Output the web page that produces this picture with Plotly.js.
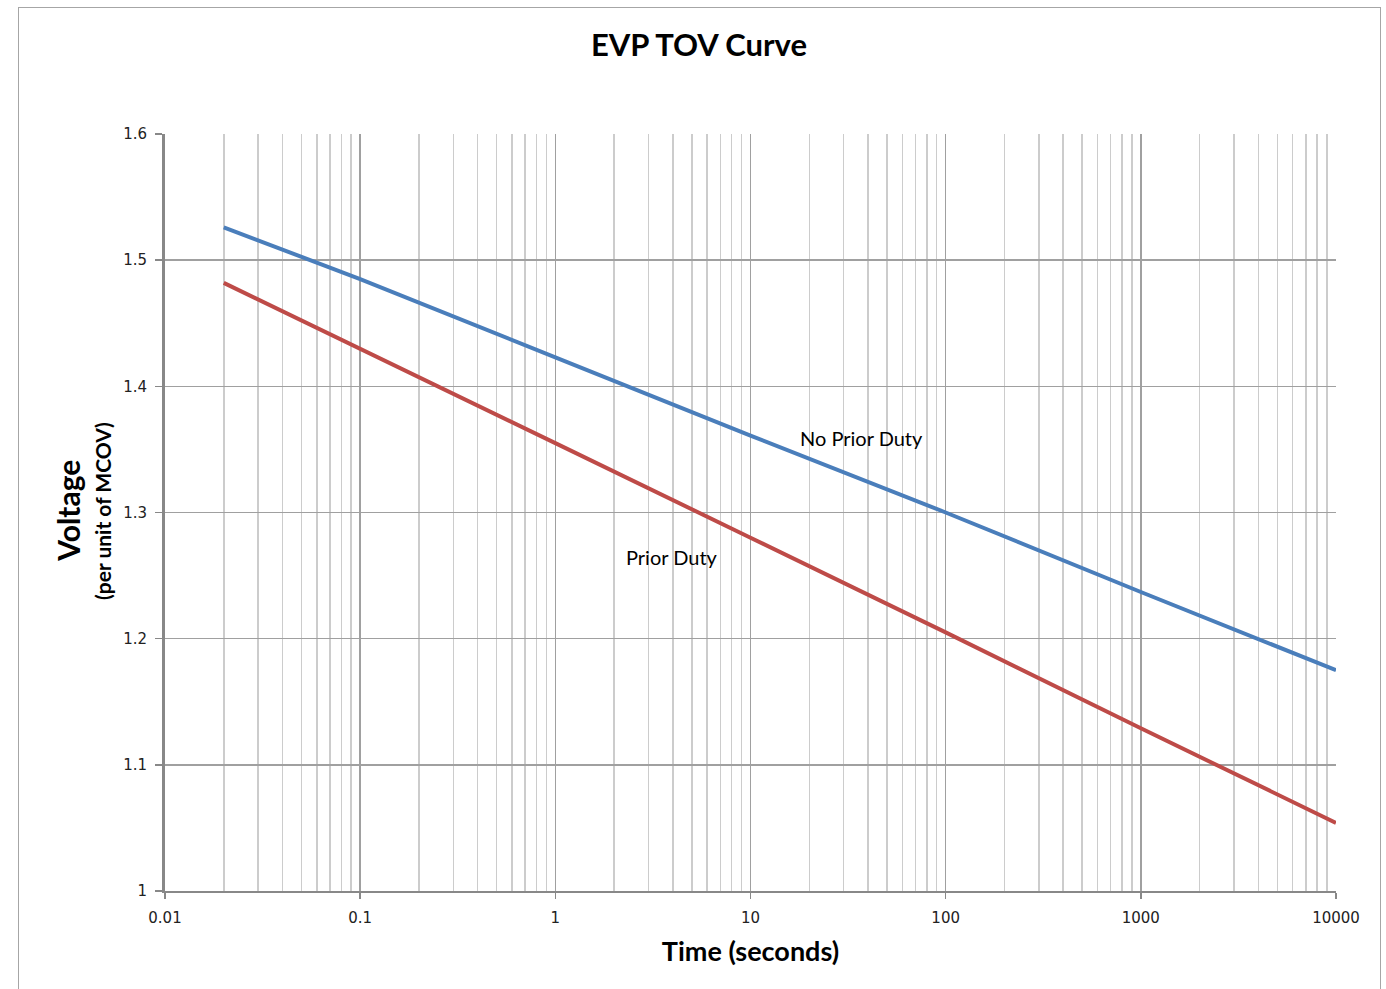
<!DOCTYPE html>
<html>
<head>
<meta charset="utf-8">
<script src="https://cdn.plot.ly/plotly-3.0.1.min.js"></script>
<style>
  html, body { margin: 0; padding: 0; background: #ffffff; }
  #frame { position: absolute; left: 18px; top: 7px; width: 1363px; height: 1000px; border: 1.5px solid #a6a6a6; box-sizing: border-box; }
  #chart { position: absolute; left: 0; top: 0; width: 1386px; height: 989px; }
</style>
</head>
<body>
<div id="frame"></div>
<div id="chart"></div>
<script>
// Time (seconds)
const timeSeconds = [0.02, 0.1, 1, 10, 100, 1000, 10000];
// Voltage per unit of MCOV
const noPriorDuty = [1.526, 1.485, 1.423, 1.361, 1.300, 1.237, 1.175];
const priorDuty   = [1.482, 1.430, 1.355, 1.280, 1.205, 1.129, 1.054];

const xTickVals = [0.01, 0.1, 1, 10, 100, 1000, 10000];
const xTickText = ["0.01", "0.1", "1", "10", "100", "1000", "10000"];
const yTickVals = [1, 1.1, 1.2, 1.3, 1.4, 1.5, 1.6];
const yTickText = ["1", "1.1", "1.2", "1.3", "1.4", "1.5", "1.6"];

const traces = [
  { x: timeSeconds, y: noPriorDuty, name: "No Prior Duty", mode: "lines",
    line: { color: "#4a7ebb", width: 4 } },
  { x: timeSeconds, y: priorDuty, name: "Prior Duty", mode: "lines",
    line: { color: "#be4b48", width: 4 } }
];

const layout = {
  width: 1386, height: 989,
  paper_bgcolor: "rgba(0,0,0,0)",
  plot_bgcolor: "#ffffff",
  showlegend: false,
  margin: { l: 165, r: 50, t: 134, b: 98 },
  title: { text: "<b>EVP TOV Curve</b>", x: 0.5043, xref: "container", xanchor: "center",
           y: 0.954, yref: "container", yanchor: "middle",
           font: { family: "Lato, 'Open Sans', sans-serif", size: 31, color: "#000" } },
  xaxis: {
    type: "log",
    range: [-2, 4],
    tickmode: "array", tickvals: xTickVals, ticktext: xTickText,
    ticks: "outside", ticklen: 6, tickcolor: "#888", tickwidth: 1.5,
    ticklabelstandoff: 6,
    tickfont: { family: "'DejaVu Sans', Verdana, sans-serif", size: 15, color: "#222" },
    showgrid: true, gridcolor: "#a0a0a0", gridwidth: 1.5,
    minor: { tickvals: [0.02,0.03,0.04,0.05,0.06,0.07,0.08,0.09,
                        0.2,0.3,0.4,0.5,0.6,0.7,0.8,0.9,
                        2,3,4,5,6,7,8,9,
                        20,30,40,50,60,70,80,90,
                        200,300,400,500,600,700,800,900,
                        2000,3000,4000,5000,6000,7000,8000,9000],
             showgrid: true, gridcolor: "#cccccc", gridwidth: 1.5, ticks: "" },
    showline: true, linecolor: "#888", linewidth: 2, mirror: false,
    zeroline: false,
    title: { text: "<b>Time (seconds)</b>", standoff: 16,
             font: { family: "Lato, 'Open Sans', sans-serif", size: 27, color: "#000" } }
  },
  yaxis: {
    range: [1, 1.6],
    tickmode: "array", tickvals: yTickVals, ticktext: yTickText,
    ticks: "outside", ticklen: 7, tickcolor: "#888", tickwidth: 1.5,
    ticklabelstandoff: 5,
    tickfont: { family: "'DejaVu Sans', Verdana, sans-serif", size: 15, color: "#222" },
    showgrid: true, gridcolor: "#a0a0a0", gridwidth: 1.5,
    showline: true, linecolor: "#888", linewidth: 3,
    zeroline: false
  },
  annotations: [
    { text: "<b>Voltage</b>", xref: "paper", yref: "paper", x: -0.083, y: 0.502,
      xanchor: "center", yanchor: "middle", textangle: -90, showarrow: false,
      font: { family: "Lato, 'Open Sans', sans-serif", size: 30, color: "#000" } },
    { text: "<b>(per unit of MCOV)</b>", xref: "paper", yref: "paper", x: -0.053, y: 0.502,
      xanchor: "center", yanchor: "middle", textangle: -90, showarrow: false,
      font: { family: "Lato, 'Open Sans', sans-serif", size: 21, color: "#000" } },
    { text: "No Prior Duty", xref: "x", yref: "y", x: Math.log10(37.2), y: 1.359,
      xanchor: "center", yanchor: "middle", showarrow: false,
      font: { family: "Lato, 'Open Sans', sans-serif", size: 20, color: "#000" } },
    { text: "Prior Duty", xref: "x", yref: "y", x: Math.log10(3.96), y: 1.265,
      xanchor: "center", yanchor: "middle", showarrow: false,
      font: { family: "Lato, 'Open Sans', sans-serif", size: 20, color: "#000" } }
  ]
};

Plotly.newPlot("chart", traces, layout, { displayModeBar: false, staticPlot: true });
</script>
</body>
</html>
